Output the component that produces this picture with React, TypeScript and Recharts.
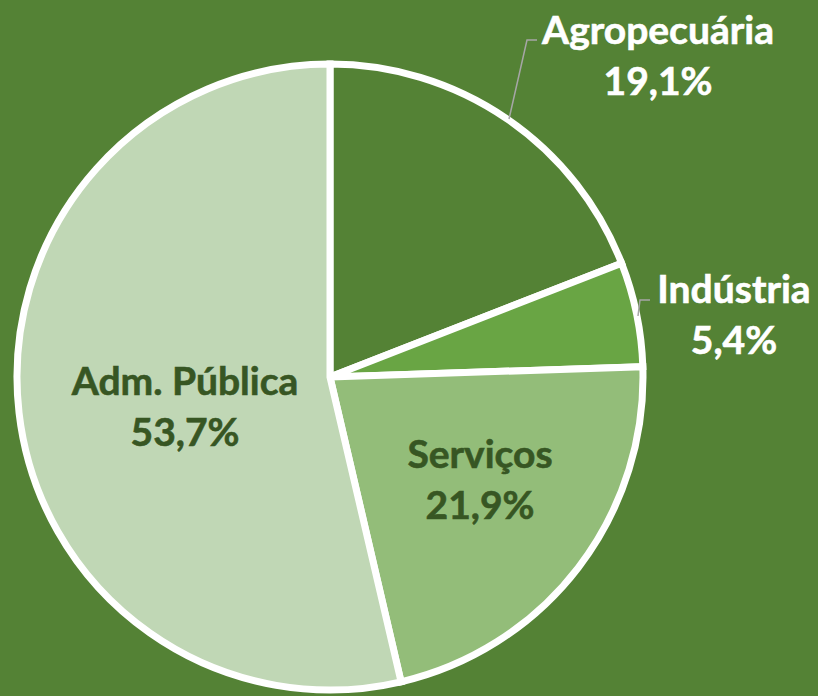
import React from 'react';
import { PieChart, Pie, Cell } from 'recharts';

const sectors = ['Agropecuária', 'Indústria', 'Serviços', 'Adm. Pública'];
const shares = [19.1, 5.4, 21.9, 53.7];
const colors = ['#548235', '#69A544', '#93BD79', '#C0D7B5'];

// label block offsets from the pie centre (text centre of first line) and leader lines
const labelLayout = [
    { dx: 328, dy: -348, fill: '#ffffff', line: [[179, -258], [197, -337], [207, -337]] },
    { dx: 404, dy: -89, fill: '#ffffff', line: [[308, -61], [310, -77], [320, -77]] },
    { dx: 150, dy: 76, fill: '#375623', line: null },
    { dx: -145, dy: 3, fill: '#375623', line: null },
];

const data = sectors.map((name, i) => ({ name, value: shares[i] }));

const fmt = (v: number) => v.toFixed(1).replace('.', ',') + '%';

const renderLabel = (props: any) => {
    const { cx, cy, index, value, name } = props;
    const l = labelLayout[index];
    const x = cx + l.dx;
    const y = cy + l.dy;
    const textProps = {
        textAnchor: 'middle' as const,
        dominantBaseline: 'central' as const,
        fill: l.fill,
        stroke: l.fill,
        strokeWidth: 0.6,
        fontFamily: "Lato, 'Open Sans', sans-serif",
        fontWeight: 700,
        fontSize: 39,
    };
    return (
        <g key={'lbl-' + index}>
            {l.line && (
                <polyline
                    points={l.line.map((p) => `${cx + p[0]},${cy + p[1]}`).join(' ')}
                    fill="none"
                    stroke="#A6A6A6"
                    strokeWidth={1.5}
                />
            )}
            <text x={x} y={y} {...textProps}>
                {name}
            </text>
            <text x={x} y={y + 51} {...textProps}>
                {fmt(value)}
            </text>
        </g>
    );
};

export default function App() {
    return (
        <div style={{ position: 'absolute', left: 0, top: 0, width: 818, height: 696, background: '#548235' }}>
            <PieChart width={818} height={696} margin={{ top: 0, right: 0, bottom: 0, left: 0 }}>
                <Pie
                    data={data}
                    dataKey="value"
                    nameKey="name"
                    cx={330}
                    cy={377}
                    outerRadius={313}
                    startAngle={90}
                    endAngle={-270}
                    stroke="#ffffff"
                    strokeWidth={7}
                    label={renderLabel}
                    labelLine={false}
                    isAnimationActive={false}
                >
                    {data.map((d, i) => (
                        <Cell key={d.name} fill={colors[i]} />
                    ))}
                </Pie>
            </PieChart>
        </div>
    );
}
